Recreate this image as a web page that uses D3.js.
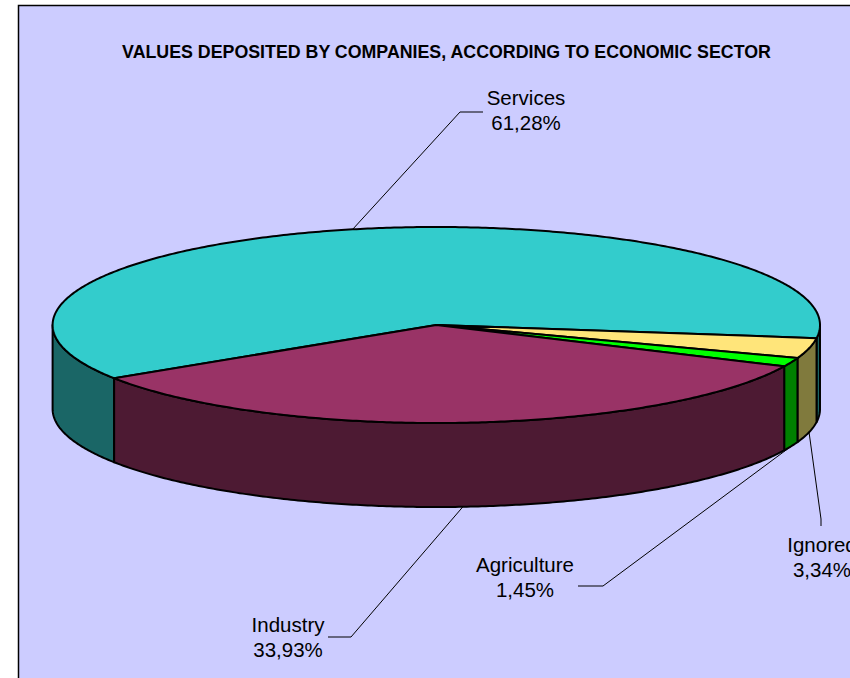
<!DOCTYPE html>
<html>
<head>
<meta charset="utf-8">
<script src="https://cdn.jsdelivr.net/npm/d3@7"></script>
<style>
  html, body { margin: 0; padding: 0; background: #ffffff; }
  svg { display: block; }
</style>
</head>
<body>
<svg id="chart" width="850" height="678"></svg>
<script>
// Share of deposited values by economic sector (percent), clockwise order
const categories = ["Services", "Ignored", "Agriculture", "Industry"];
const shares = [61.28, 3.34, 1.45, 33.93];
const chartTitle = "VALUES DEPOSITED BY COMPANIES, ACCORDING TO ECONOMIC SECTOR";

// Colours per sector: top face and the darker outer wall
const palette = {
  Services:    { top: "#33CCCC", side: "#1A6666" },
  Ignored:     { top: "#FFE57A", side: "#807A3D" },
  Agriculture: { top: "#00FF00", side: "#008000" },
  Industry:    { top: "#993366", side: "#4D1A33" }
};

// Label placement: text centre, baseline of first line, leader elbow points
const labelLayout = {
  Services:    { x: 526, y: 105, elbow: [[460, 112], [483, 112]] },
  Ignored:     { x: 822, y: 552, elbow: [[821, 519], [821, 526]] },
  Agriculture: { x: 525, y: 572, elbow: [[603, 586], [578, 586]] },
  Industry:    { x: 288, y: 632, elbow: [[351, 637], [328, 637]] }
};

const W = 850, H = 678;
const svg = d3.select("#chart");

// Panel
svg.append("rect").attr("x", 0).attr("y", 0).attr("width", W).attr("height", H).attr("fill", "#ffffff");
svg.append("rect")
  .attr("x", 18.5).attr("y", 5.5).attr("width", W + 10).attr("height", H + 10)
  .attr("fill", "#CCCCFF").attr("stroke", "#000").attr("stroke-width", 1.5);

// Title
svg.append("text")
  .attr("x", 446.5).attr("y", 57.5)
  .attr("text-anchor", "middle")
  .attr("font-family", "'Liberation Sans', Arial, sans-serif")
  .attr("font-weight", "bold")
  .attr("font-size", 17.8)
  .text(chartTitle);

// 3D pie geometry (flattened ellipse with a wall)
const cx = 436.3, cy = 325, rx = 383.7, ry = 98, depth = 84;
const startAngle = 237.1 * Math.PI / 180;

const pie = d3.pie().sort(null).value(d => d.value)
  .startAngle(startAngle).endAngle(startAngle + 2 * Math.PI);
const arcs = pie(categories.map((c, i) => ({ name: c, value: shares[i] })));

const P = (a, dy = 0) => [cx + rx * Math.sin(a), cy - ry * Math.cos(a) + dy];
const line = d3.line();
const sampleArc = (a0, a1, dy) => {
  const n = Math.max(2, Math.ceil(Math.abs(a1 - a0) / 0.01));
  return d3.range(n + 1).map(k => P(a0 + (a1 - a0) * k / n, dy));
};

const pieG = svg.append("g");

// Outer walls: only the front half (angles between 90° and 270°) is visible
const front = [[Math.PI / 2, 3 * Math.PI / 2], [Math.PI / 2 + 2 * Math.PI, 3 * Math.PI / 2 + 2 * Math.PI]];
arcs.forEach(d => {
  front.forEach(([f0, f1]) => {
    const a0 = Math.max(d.startAngle, f0), a1 = Math.min(d.endAngle, f1);
    if (a1 <= a0) return;
    const pts = sampleArc(a0, a1, 0).concat(sampleArc(a1, a0, depth));
    pieG.append("path")
      .attr("d", line(pts) + "Z")
      .attr("fill", palette[d.data.name].side)
      .attr("stroke", "#000").attr("stroke-width", 2)
      .attr("stroke-linejoin", "round");
  });
});

// Top faces
arcs.forEach(d => {
  const pts = [[cx, cy]].concat(sampleArc(d.startAngle, d.endAngle, 0));
  pieG.append("path")
    .attr("d", line(pts) + "Z")
    .attr("fill", palette[d.data.name].top)
    .attr("stroke", "#000").attr("stroke-width", 2)
    .attr("stroke-linejoin", "round");
});

// Labels with leader lines
const fmt = v => d3.format(".2f")(v).replace(".", ",") + "%";
const labelG = svg.append("g")
  .attr("font-family", "'Liberation Sans', Arial, sans-serif")
  .attr("font-size", 20.5)
  .attr("fill", "#000");

arcs.forEach(d => {
  const L = labelLayout[d.data.name];
  let mid = (d.startAngle + d.endAngle) / 2;
  const m = ((mid % (2 * Math.PI)) + 2 * Math.PI) % (2 * Math.PI);
  const isFront = m > Math.PI / 2 && m < 3 * Math.PI / 2;
  const anchor = P(mid, isFront ? depth : 0);
  svg.append("path")
    .attr("d", line([anchor].concat(L.elbow)))
    .attr("fill", "none").attr("stroke", "#000").attr("stroke-width", 1);

  const t = labelG.append("text").attr("text-anchor", "middle");
  t.append("tspan").attr("x", L.x).attr("y", L.y).text(d.data.name);
  t.append("tspan").attr("x", L.x).attr("y", L.y + 24.5).text(fmt(d.data.value));
});
</script>
</body>
</html>
